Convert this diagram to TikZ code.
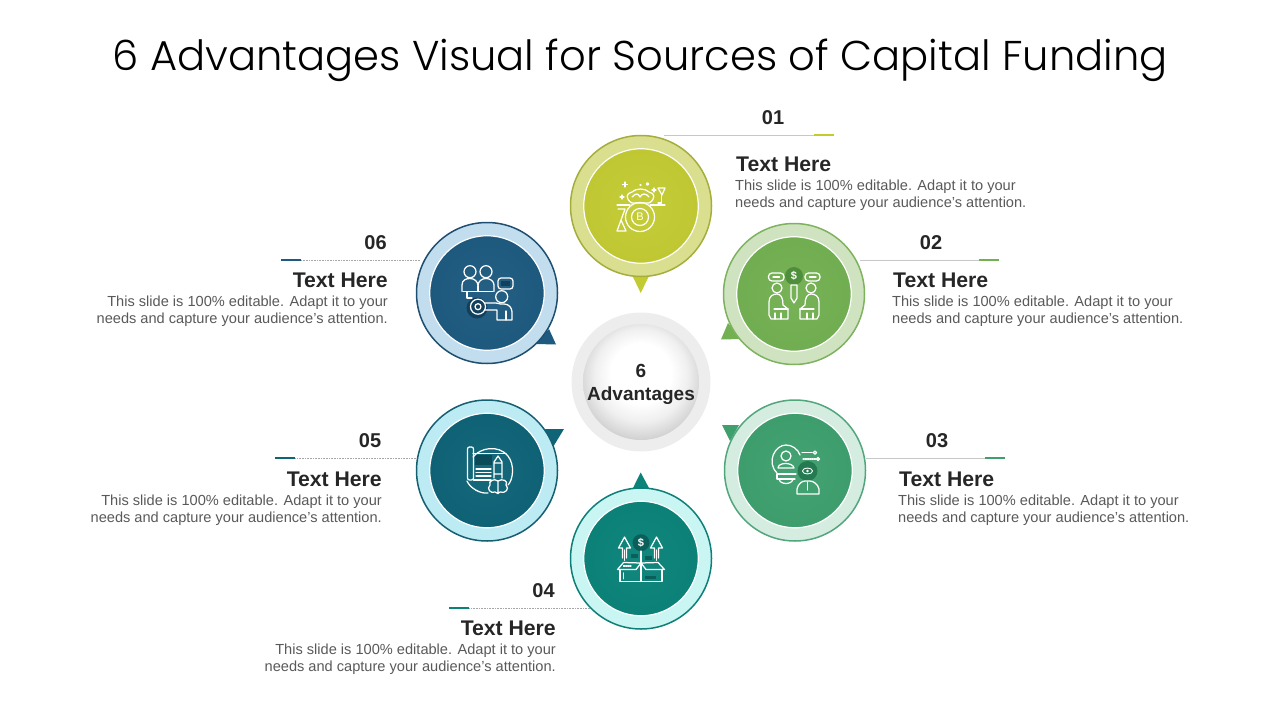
\documentclass[tikz,border=0pt]{standalone}
\usepackage{fontspec}
\setmainfont{Liberation Sans}
\newfontfamily\titlefont{Poppins}[UprightFont=* Light]
\definecolor{oliveRing}{HTML}{D9DF8F}
\definecolor{oliveEdge}{HTML}{A5AE3C}
\definecolor{oliveCore}{HTML}{C3CB33}
\definecolor{leafRing}{HTML}{CFE3C0}
\definecolor{leafEdge}{HTML}{7FB25F}
\definecolor{leafCore}{HTML}{73B052}
\definecolor{leafDark}{HTML}{4F8E3A}
\definecolor{mintRing}{HTML}{D5ECE1}
\definecolor{mintEdge}{HTML}{52A67C}
\definecolor{mintCore}{HTML}{3FA06E}
\definecolor{mintDark}{HTML}{267A52}
\definecolor{tealRing}{HTML}{C9F5F3}
\definecolor{tealEdge}{HTML}{0E7F78}
\definecolor{tealCore}{HTML}{0B8379}
\definecolor{tealDark}{HTML}{0A5F5A}
\definecolor{petrolRing}{HTML}{BDEBF3}
\definecolor{petrolEdge}{HTML}{155F70}
\definecolor{petrolCore}{HTML}{0F6477}
\definecolor{petrolDark}{HTML}{0A4A59}
\definecolor{navyRing}{HTML}{C2DDEE}
\definecolor{navyEdge}{HTML}{1F4F70}
\definecolor{navyCore}{HTML}{1E5A80}
\definecolor{navyDark}{HTML}{123F5C}
\definecolor{inkText}{HTML}{262626}
\definecolor{bodyText}{HTML}{595959}
\pgfdeclareradialshading{ballshade}{\pgfpoint{0bp}{5bp}}{color(0bp)=(white); color(13bp)=(white); color(20bp)=(black!6); color(26bp)=(black!16); color(30bp)=(black!24); color(50bp)=(black!24)}
\tikzset{
  ringnode/.style 2 args={circle,draw=#2,fill=#1,line width=1.5pt,minimum size=141pt,inner sep=0pt},
  corenode/.style={circle,draw=white,line width=1.2pt,minimum size=114.5pt,inner sep=0pt,inner color=#1!97!white,outer color=#1!98!black},
  numlabel/.style={font=\bfseries\fontsize{20}{24}\selectfont,text=inkText,inner sep=0pt},
  headlabel/.style={font=\bfseries\fontsize{21.2}{24}\selectfont,text=inkText,inner sep=0pt},
  bodylabel/.style={font=\fontsize{14.6}{17}\selectfont,text=bodyText,inner sep=0pt},
  leader/.style={line width=.6pt,black!22},
  leaderdot/.style={line width=.6pt,black!35,densely dotted},
  icon/.style={draw=white,line width=1.25pt,line join=round,line cap=round},
  dollar/.style={font=\bfseries\fontsize{11}{12}\selectfont,text=white,inner sep=0pt}
}
\begin{document}
\begin{tikzpicture}[x=1pt,y=-1pt]
  \useasboundingbox (0,0) rectangle (1280,720);
  \node[font=\titlefont\fontsize{41.65}{48}\selectfont,text=black,inner sep=0pt] (title) at (640,60) {6 Advantages Visual for Sources of Capital Funding};
  % CENTRE
  \node[circle,fill=black!7,minimum size=139pt,inner sep=0pt] (hubring) at (641,382) {};
  \node[circle,shading=ballshade,minimum size=116pt,inner sep=0pt] (hub) at (641,382) {};
  \node[align=center,font=\bfseries\fontsize{19}{23}\selectfont,text=inkText,inner sep=0pt] (hubtext) at (641,384) {6\\Advantages};
  % 01 : BAG
  \begin{scope}
    \fill[oliveCore] (633,277) -- (640.7,293) -- (648.5,277) -- cycle;
    \node[ringnode={oliveRing}{oliveEdge}] (ringA) at (641,206) {};
    \node[corenode=oliveCore] (coreA) at (641,206) {};
    \draw[icon] (640,217) circle (14.5pt);
    \draw[icon] (640,217) circle (8.5pt);
    \node[font=\fontsize{11}{11}\selectfont,text=white,inner sep=0pt] (coinA) at (640,217) {B};
    \draw[icon] (617,205) -- (630,205) (650,205) -- (665,205);
    \draw[icon] (632,203) .. controls (625,199) and (626,193) .. (632,192) .. controls (636,188) and (645,188) .. (649,192) .. controls (655,193) and (656,199) .. (649,203) -- cycle;
    \draw[icon] (632,197) .. controls (636,193) and (638,193) .. (640,197) .. controls (642,193) and (646,193) .. (649,197);
    \draw[icon] (658,188) -- (665,188) -- (662,195) -- (658,188);
    \draw[icon] (661.5,195) -- (661.5,203) -- (658,203);
    \draw[icon] (618,209) -- (625,209) -- (621,220) -- (617,231) -- (626,231) -- (621,220);
    \draw[icon] (625,182) -- (625,187) (622.5,184.5) -- (627.5,184.5);
    \draw[icon] (622,195) -- (622,199) (620,197) -- (624,197);
    \draw[icon] (654,188) -- (654,192) (652,190) -- (656,190);
    \draw[icon] (647.5,184) circle (1.2pt);
    \draw[icon] (640,185) -- (641,185);
    \coordinate (startA) at (664,135);
    \coordinate (markA) at (814,135);
    \coordinate (endA) at (834,135);
    \draw[leader] (startA) -- (markA);
    \draw[line width=1.6pt,oliveCore] (markA) -- (endA);
    \node[numlabel] (numA) at (773,118) {01};
    \node[headlabel,anchor=west] (headA) at (736,164) {Text Here};
    \node[bodylabel,anchor=north west,align=left] (bodyA) at (735,180) {This slide is 100\% editable. Adapt it to your\\needs and capture your audience's attention.};
  \end{scope}
  % 02 : TWO SITTING
  \begin{scope}
    \fill[leafCore] (728,323) -- (721,339.5) -- (741,339) -- cycle;
    \node[ringnode={leafRing}{leafEdge}] (ringB) at (794,294) {};
    \node[corenode=leafCore] (coreB) at (794,294) {};
    \fill[leafDark] (794,276) circle (9pt);
    \node[dollar] (coinB) at (794,276) {\$};
    \draw[icon,rounded corners=3.5pt] (768.5,273) rectangle (784,281);
    \draw[icon,rounded corners=3.5pt] (805,273) rectangle (820,281);
    \draw[icon] (773,277) -- (779.5,277);
    \draw[icon] (809.5,277) -- (816,277);
    \draw[icon] (791,285) -- (797,285) -- (797,298) -- (794,303) -- (791,298) -- cycle;
    \draw[icon] (777,288) circle (5pt);
    \draw[icon] (811,288) circle (5pt);
    \draw[icon] (769,315) -- (769,302) .. controls (769,296) and (773,294) .. (777,294) .. controls (781,294) and (783,298) .. (783,305) -- (788,309) -- (788,319) -- (771,319) -- cycle;
    \draw[icon] (819,315) -- (819,302) .. controls (819,296) and (815,294) .. (811,294) .. controls (807,294) and (805,298) .. (805,305) -- (800,309) -- (800,319) -- (817,319) -- cycle;
    \draw[icon] (774,309) -- (788,309) (775,313) -- (775,319) (781,313) -- (781,319);
    \draw[icon] (814,309) -- (800,309) (813,313) -- (813,319) (807,313) -- (807,319);
    \coordinate (startB) at (860,260);
    \coordinate (markB) at (979,260);
    \coordinate (endB) at (999,260);
    \draw[leader] (startB) -- (markB);
    \draw[line width=1.6pt,leafCore] (markB) -- (endB);
    \node[numlabel] (numB) at (931,243) {02};
    \node[headlabel,anchor=west] (headB) at (893,280) {Text Here};
    \node[bodylabel,anchor=north west,align=left] (bodyB) at (892,296) {This slide is 100\% editable. Adapt it to your\\needs and capture your audience's attention.};
  \end{scope}
  % 03 : BULB
  \begin{scope}
    \fill[mintCore] (722,425) -- (739,425) -- (730,441) -- cycle;
    \node[ringnode={mintRing}{mintEdge}] (ringC) at (795,470.5) {};
    \node[corenode=mintCore] (coreC) at (795,470.5) {};
    \draw[icon] (777,473) .. controls (766,462) and (775,445) .. (786,445) .. controls (792,445) and (798,449) .. (800,455);
    \draw[icon] (796,474) -- (777,474) -- (777,479) -- (795,479);
    \draw[icon] (779,479) .. controls (780,485) and (792,485) .. (793,479);
    \draw[icon] (786,456) circle (5pt);
    \draw[icon] (778,468) .. controls (778,462) and (793,462) .. (794,468) -- (778,468);
    \fill[mintDark] (807.5,471) circle (10pt);
    \draw[icon,line width=.9pt] (807.5,471) ellipse (5pt and 3pt);
    \fill[white] (807.5,471) circle (1.4pt);
    \draw[icon] (797,494) -- (797,489) .. controls (798,484) and (802,481) .. (805,481) -- (810,481) .. controls (813,481) and (818,484) .. (819,489) -- (819,494) -- cycle;
    \draw[icon] (807.5,482) -- (807.5,490);
    \draw[icon,densely dotted] (802,452.7) -- (813,452.7);
    \draw[icon] (815,452.7) circle (1.6pt);
    \draw[icon,densely dotted] (803,459) -- (816,459);
    \draw[icon] (818,459) circle (1.6pt);
    \coordinate (startC) at (866,458);
    \coordinate (markC) at (985,458);
    \coordinate (endC) at (1005,458);
    \draw[leader] (startC) -- (markC);
    \draw[line width=1.6pt,mintCore] (markC) -- (endC);
    \node[numlabel] (numC) at (937,441) {03};
    \node[headlabel,anchor=west] (headC) at (899,479) {Text Here};
    \node[bodylabel,anchor=north west,align=left] (bodyC) at (898,495) {This slide is 100\% editable. Adapt it to your\\needs and capture your audience's attention.};
  \end{scope}
  % 04 : BOX
  \begin{scope}
    \fill[tealCore] (633,488) -- (640.7,472.5) -- (649,488) -- cycle;
    \node[ringnode={tealRing}{tealEdge}] (ringD) at (641,558.5) {};
    \node[corenode=tealCore] (coreD) at (641,558.5) {};
    \fill[tealDark] (631,554) rectangle (638,558);
    \fill[tealDark] (645,556) rectangle (652,560);
    \fill[tealDark] (645,575.5) rectangle (656,579);
    \fill[tealDark] (641,542.7) circle (8.5pt);
    \node[dollar] (coinD) at (641,542.7) {\$};
    \draw[icon] (641,551) -- (641,563);
    \draw[icon] (622.5,558) -- (622.5,548) -- (618.5,548) -- (624.5,537) -- (630.5,548) -- (626.5,548) -- (626.5,558);
    \draw[icon] (654.5,558) -- (654.5,548) -- (650.5,548) -- (656.5,537) -- (662.5,548) -- (658.5,548) -- (658.5,558);
    \draw[icon,densely dotted] (624.5,550) -- (624.5,561);
    \draw[icon,densely dotted] (656.5,550) -- (656.5,561);
    \draw[icon] (620,569.5) -- (620,581.5) -- (662,581.5) -- (662,569.5);
    \draw[icon] (641,563) -- (641,581.5);
    \draw[icon] (623.5,562.5) -- (617.5,569.5) -- (636,569.5) -- (641,563) -- (646,569.5) -- (664.5,569.5) -- (658,562.5) -- (641,563) -- (623.5,562.5);
    \draw[icon,densely dotted] (623.5,566) -- (631,566);
    \draw[icon,densely dotted] (623.5,573) -- (623.5,579);
    \coordinate (startD) at (590,608);
    \coordinate (markD) at (469,608);
    \coordinate (endD) at (449,608);
    \draw[leaderdot] (startD) -- (markD);
    \draw[line width=1.6pt,tealCore] (markD) -- (endD);
    \node[numlabel] (numD) at (543.5,591) {04};
    \node[headlabel,anchor=east] (headD) at (556,628) {Text Here};
    \node[bodylabel,anchor=north east,align=right] (bodyD) at (556,644) {This slide is 100\% editable. Adapt it to your\\needs and capture your audience's attention.};
  \end{scope}
  % 05 : SCROLL
  \begin{scope}
    \fill[petrolCore] (545,429) -- (564,429) -- (553,447) -- cycle;
    \node[ringnode={petrolRing}{petrolEdge}] (ringE) at (487,470.5) {};
    \node[corenode=petrolCore] (coreE) at (487,470.5) {};
    \fill[petrolDark] (475,455) rectangle (492,465);
    \draw[icon] (473,453.5) -- (506,453.5);
    \draw[icon] (473,457) .. controls (480,448) and (498,444) .. (508,456) .. controls (515,465) and (513,480) .. (508,485);
    \draw[icon] (488,493) .. controls (480,494) and (470,488) .. (467,481);
    \draw[icon,rounded corners=2pt] (467.5,447) rectangle (473.5,480);
    \draw[icon] (473.5,480) -- (491,480);
    \draw[icon] (476,469) -- (491,469) (476,472.5) -- (491,472.5) (476,476) -- (491,476);
    \draw[icon] (494,478) -- (494,462) -- (498,456) -- (502,462) -- (502,478) (494,463) -- (502,463) (494,474) -- (502,474);
    \draw[icon] (498,481) .. controls (494,478) and (488,481) .. (490,485) .. controls (486,489) and (491,494) .. (495,492) .. controls (497,494) and (499,494) .. (500,492) .. controls (505,494) and (510,489) .. (506,485) .. controls (509,481) and (502,478) .. (498,481) -- (498,492);
    \coordinate (startE) at (416,458);
    \coordinate (markE) at (295,458);
    \coordinate (endE) at (275,458);
    \draw[leaderdot] (startE) -- (markE);
    \draw[line width=1.6pt,petrolCore] (markE) -- (endE);
    \node[numlabel] (numE) at (370,441) {05};
    \node[headlabel,anchor=east] (headE) at (382,479) {Text Here};
    \node[bodylabel,anchor=north east,align=right] (bodyE) at (382,495) {This slide is 100\% editable. Adapt it to your\\needs and capture your audience's attention.};
  \end{scope}
  % 06 : MEETING
  \begin{scope}
    \fill[navyCore] (549,329) -- (556,344.5) -- (536,344) -- cycle;
    \node[ringnode={navyRing}{navyEdge}] (ringF) at (487,293) {};
    \node[corenode=navyCore] (coreF) at (487,293) {};
    \fill[navyDark] (477,308) circle (10.5pt);
    \draw[icon] (470,271.7) circle (6pt);
    \draw[icon] (486,271.7) circle (6pt);
    \draw[icon] (462,291.5) -- (462,285) .. controls (462,280) and (466,278.5) .. (470,278.5) .. controls (474,278.5) and (478,281) .. (478,286) .. controls (478,281) and (482,278.5) .. (486,278.5) .. controls (490,278.5) and (494,281) .. (494,285) -- (494,291.5);
    \draw[icon] (478,286) -- (478,291.5);
    \draw[icon] (463,291.5) -- (493,291.5);
    \draw[icon] (467,291.5) -- (467,298) -- (472,298);
    \draw[icon,rounded corners=3pt] (498,278) rectangle (513,289);
    \fill[navyDark] (501,281) rectangle (510,286);
    \draw[icon] (501.7,296.7) circle (6pt);
    \draw[icon] (485,303) -- (496,303) .. controls (499,304) and (501,304) .. (504,304) .. controls (509,304) and (512,308) .. (512,312) -- (512,320) -- (497,320) -- (497,310) -- (485,310);
    \draw[icon] (506,311) -- (506,320);
    \draw[icon] (478,306.7) circle (7.5pt);
    \draw[icon] (478,306.7) circle (3pt);
    \coordinate (startF) at (420,260);
    \coordinate (markF) at (301,260);
    \coordinate (endF) at (281,260);
    \draw[leaderdot] (startF) -- (markF);
    \draw[line width=1.6pt,navyCore] (markF) -- (endF);
    \node[numlabel] (numF) at (375.5,243) {06};
    \node[headlabel,anchor=east] (headF) at (388,280) {Text Here};
    \node[bodylabel,anchor=north east,align=right] (bodyF) at (388,296) {This slide is 100\% editable. Adapt it to your\\needs and capture your audience's attention.};
  \end{scope}
\end{tikzpicture}
\end{document}
